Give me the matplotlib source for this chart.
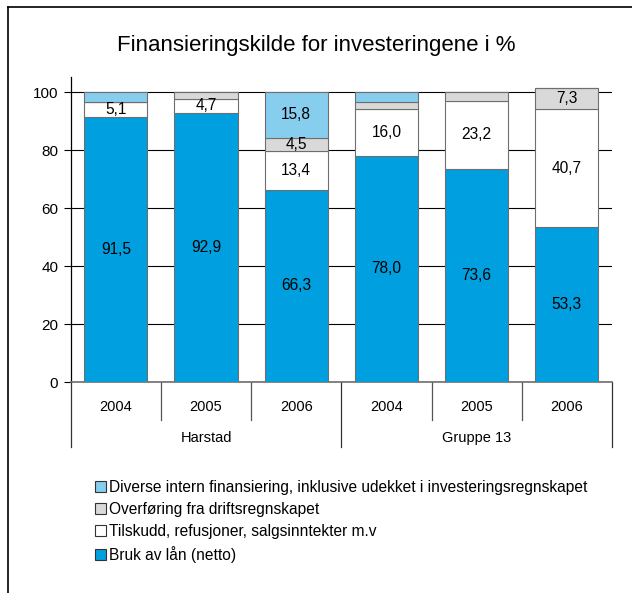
import matplotlib
matplotlib.use("Agg")
import matplotlib.pyplot as plt
from matplotlib.patches import Rectangle
from matplotlib.lines import Line2D
import numpy as np

plt.rcParams['font.family'] = ['Liberation Sans', 'DejaVu Sans']

years = ["2004", "2005", "2006", "2004", "2005", "2006"]
groups = ["Harstad", "Gruppe 13"]
laan = [91.5, 92.9, 66.3, 78.0, 73.6, 53.3]
tilskudd = [5.1, 4.7, 13.4, 16.0, 23.2, 40.7]
overforing = [0.0, 2.4, 4.5, 2.5, 3.2, 7.3]
diverse = [3.4, 0.0, 15.8, 3.5, 0.0, 0.0]

series = [
    ("Bruk av lån (netto)", laan, "#009fdf"),
    ("Tilskudd, refusjoner, salgsinntekter m.v", tilskudd, "#ffffff"),
    ("Overføring fra driftsregnskapet", overforing, "#d9d9d9"),
    ("Diverse intern finansiering, inklusive udekket i investeringsregnskapet", diverse, "#87cdee"),
]

W, H = 632, 593
fig = plt.figure(figsize=(W / 100, H / 100), dpi=100)
ax = fig.add_axes([70.7 / W, 1 - 382 / H, (612 - 70.7) / W, (382 - 77) / H])

x = np.arange(len(years))
bottom = np.zeros(len(years))
for name, vals, col in series:
    vals = np.array(vals)
    ax.bar(x, vals, 0.7, bottom=bottom, color=col, edgecolor="#6e6e6e",
           linewidth=0.8, zorder=3)
    for xi, b, v in zip(x, bottom, vals):
        if v >= 4:
            ax.text(xi, b + v / 2, f"{v:.1f}".replace(".", ","), ha="center",
                    va="center", fontsize=11.2, zorder=4)
    bottom += vals

ax.set_xlim(-0.5, len(years) - 0.5)
ax.set_ylim(0, 105.2)
ax.set_yticks([0, 20, 40, 60, 80, 100])
ax.yaxis.grid(True, color="black", linewidth=0.8, zorder=0)
ax.set_axisbelow(True)
ax.tick_params(axis="y", length=5, width=0.8, labelsize=11, pad=4)
ax.set_xticks([])
for s in ["top", "right"]:
    ax.spines[s].set_visible(False)
ax.spines["left"].set_linewidth(0.9)
ax.spines["bottom"].set_color("#6e6e6e")
ax.spines["bottom"].set_linewidth(1.2)

trans = ax.get_xaxis_transform()
for k in range(len(years) + 1):
    long = k % 3 == 0
    ax.plot([k - 0.5, k - 0.5], [0, -0.213 if long else -0.125],
            transform=trans, color="#333333" if long else "#555555",
            linewidth=0.9, clip_on=False)
for xi, yr in zip(x, years):
    ax.text(xi, -0.082, yr, transform=trans, ha="center", va="center", fontsize=10.5)
for gi, g in enumerate(groups):
    ax.text(gi * 3 + 1, -0.184, g, transform=trans, ha="center", va="center", fontsize=10.5)

fig.text(0.5 * (118 + 515) / W, 1 - 45 / H, "Finansieringskilde for investeringene i %",
         ha="center", va="center", fontsize=16)

# legend
handles = [Rectangle((0, 0), 1, 1, facecolor=c, edgecolor="#333333", linewidth=0.8)
           for _, _, c in series[::-1]]
labels = [n for n, _, _ in series[::-1]]
fig.legend(handles, labels, loc="upper left", bbox_to_anchor=(95 / W, 1 - 480 / H),
           frameon=False, fontsize=11.2, handlelength=0.7, handleheight=0.7,
           handletextpad=0.2, labelspacing=0.45, borderaxespad=0, borderpad=0)

# frame border
fig.add_artist(Line2D([8 / W, 8 / W], [0, 1 - 7 / H], color="black", linewidth=1.2))
fig.add_artist(Line2D([8 / W, 1.0], [1 - 7 / H, 1 - 7 / H], color="black", linewidth=1.2))

fig.savefig("out.png", dpi=100)
